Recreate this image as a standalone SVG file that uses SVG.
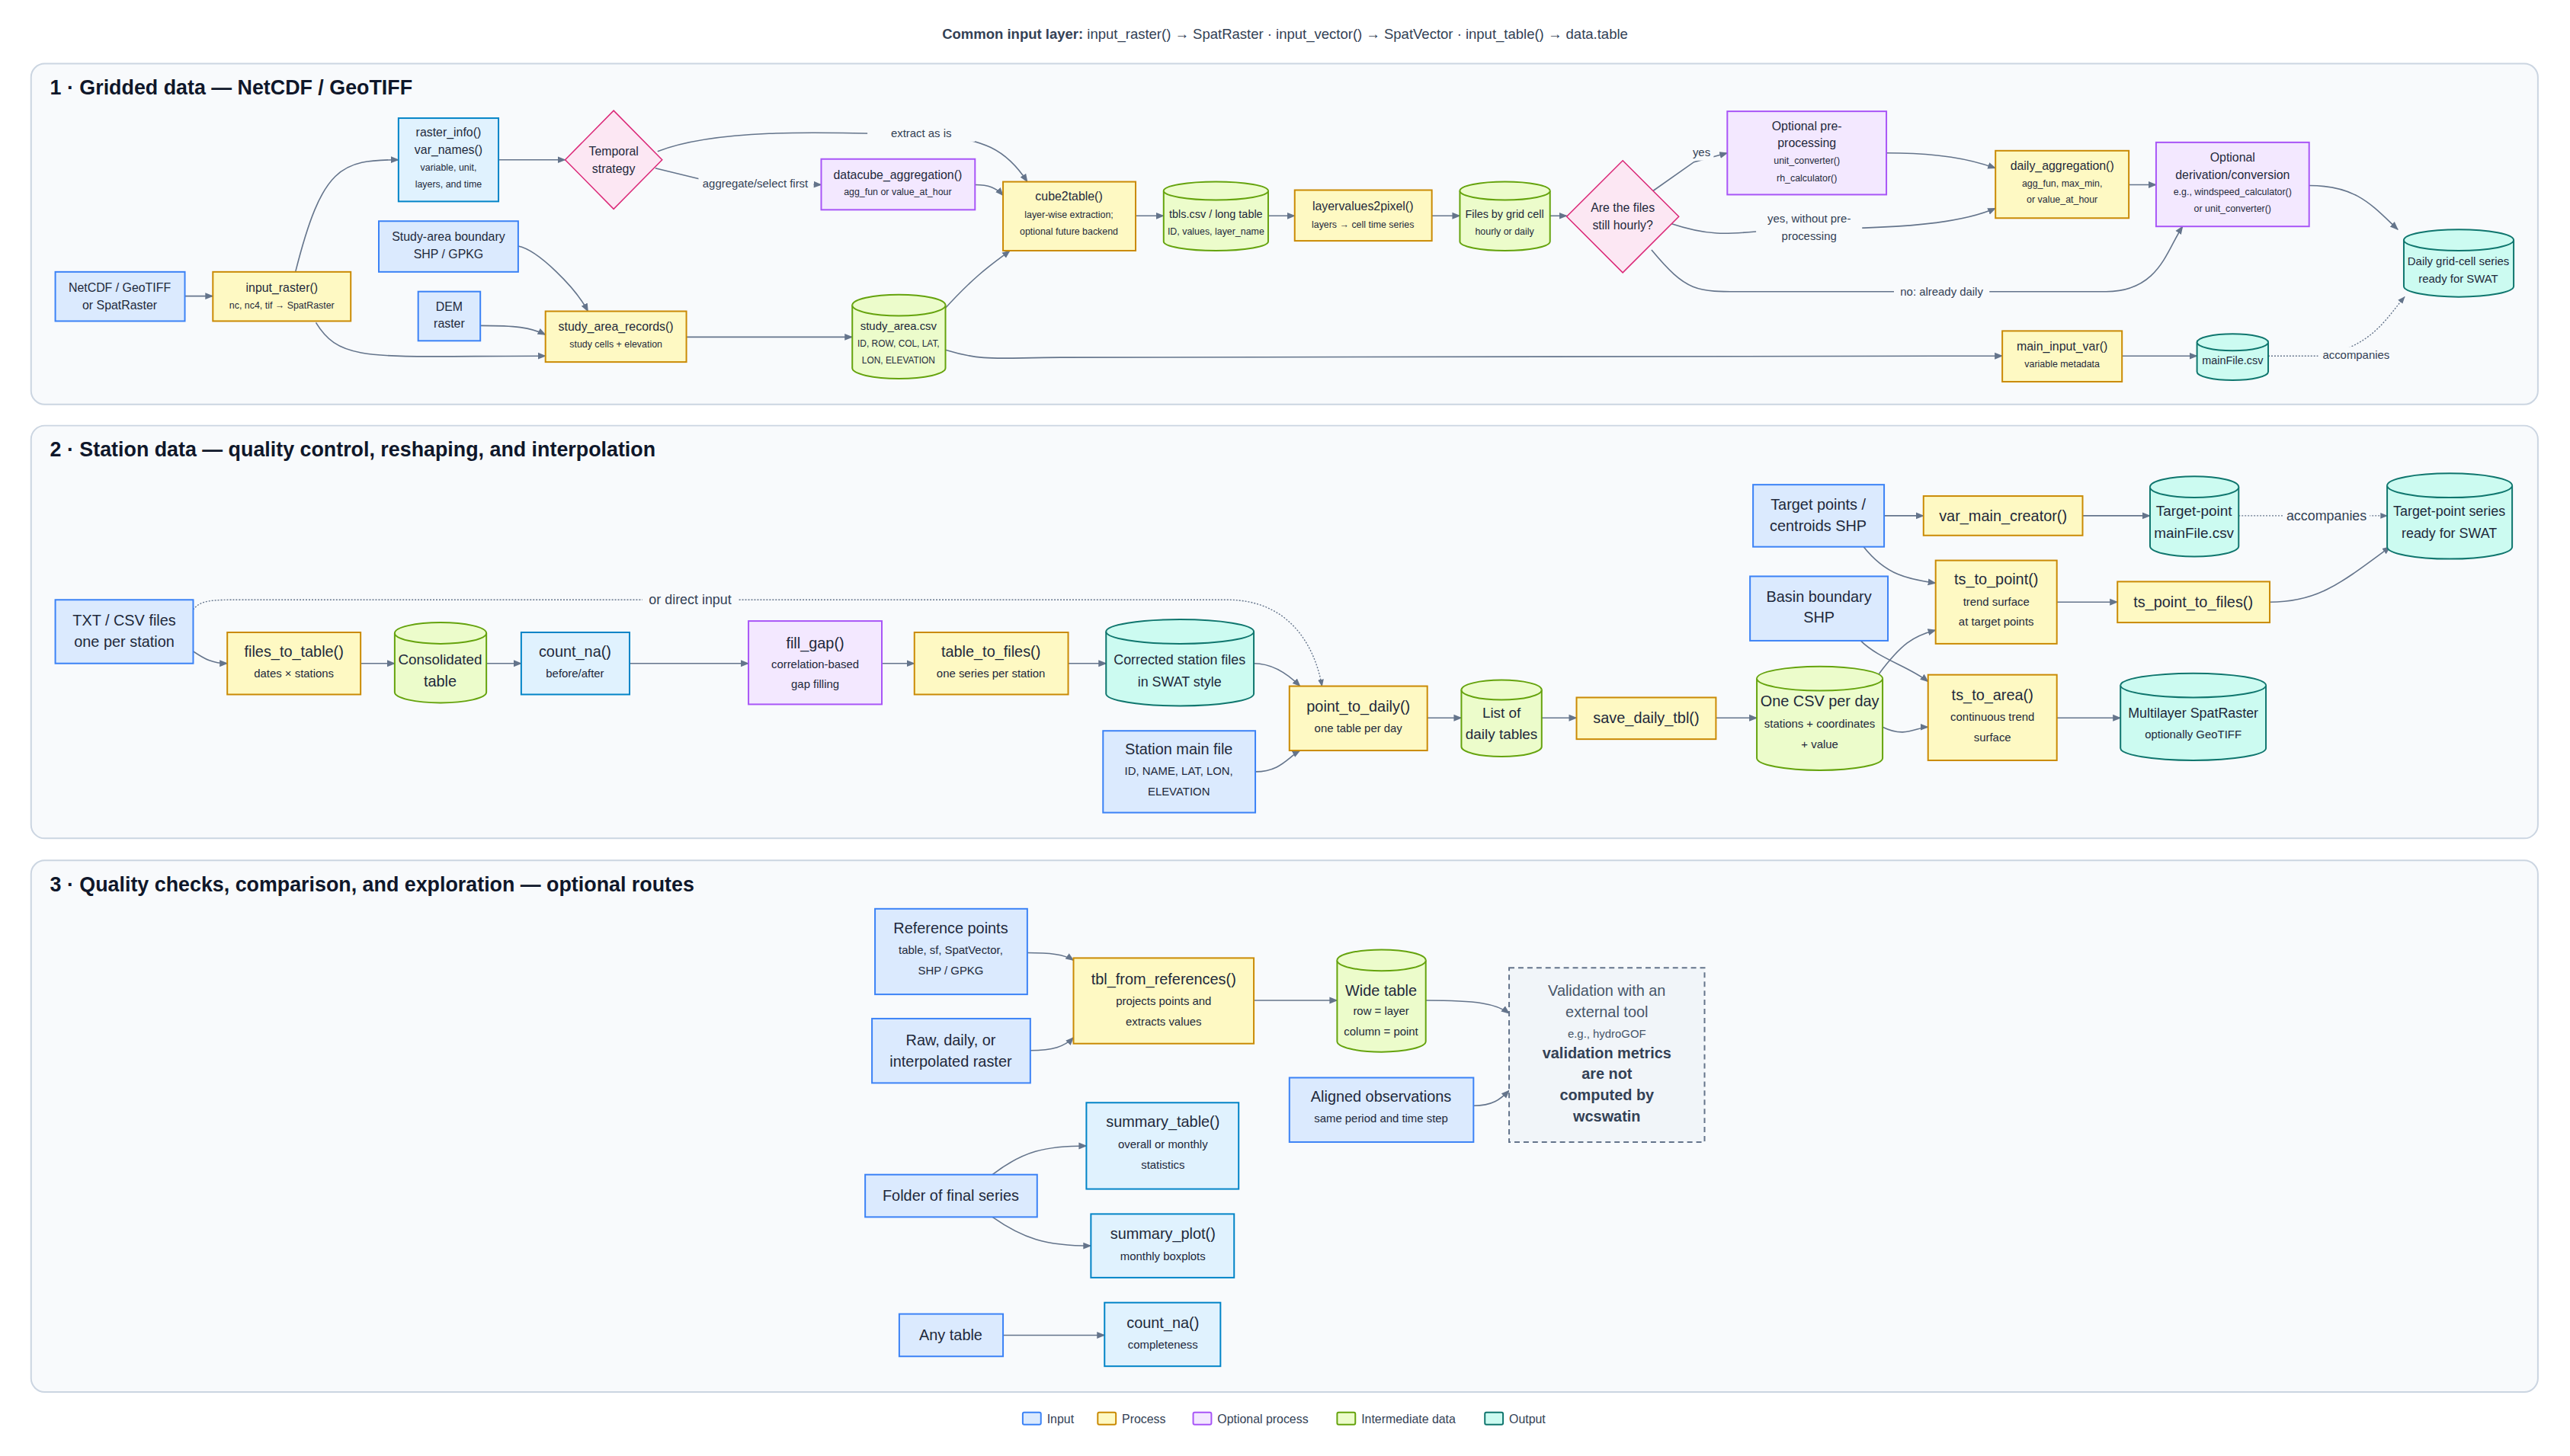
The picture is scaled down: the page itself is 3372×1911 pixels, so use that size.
<svg xmlns="http://www.w3.org/2000/svg" width="3372" height="1911" viewBox="0 0 3372 1911">
<style>
text{font-family:"Liberation Sans",Arial,sans-serif;fill:#1e293b;text-anchor:middle}
.m1{font-size:16px}.s1{font-size:12.5px}.m2{font-size:20px}.s2{font-size:15px}
.ttl{font-size:27px;font-weight:bold;text-anchor:start;fill:#0f172a}
.panel{fill:#f8fafc;stroke:#cbd5e1;stroke-width:2}
.in{fill:#dbeafe;stroke:#3b82f6;stroke-width:2}
.pr{fill:#fef9c3;stroke:#ca8a04;stroke-width:2}
.op{fill:#f3e8ff;stroke:#a855f7;stroke-width:2}
.im{fill:#ecfccb;stroke:#65a30d;stroke-width:2}
.out{fill:#ccfbf1;stroke:#0f766e;stroke-width:2}
.tl{fill:#e0f2fe;stroke:#0284c7;stroke-width:2}
.dec{fill:#fce7f3;stroke:#db2777;stroke-width:1.5}
.e{fill:none;stroke:#64748b;stroke-width:1.6;marker-end:url(#ah)}
.d{fill:none;stroke:#64748b;stroke-width:1.4;stroke-dasharray:2 2;marker-end:url(#ah)}
.lb{fill:#f8fafc}
.el{font-size:15px;fill:#334155}
.b{font-weight:bold}
</style>
<defs>
<marker id="ah" viewBox="0 0 10 10" refX="9" refY="5" markerWidth="7" markerHeight="7" orient="auto"><path d="M0,1 L10,5 L0,9 z" fill="#64748b"/></marker>
</defs>
<rect width="3372" height="1911" fill="#ffffff"/>
<text x="1686" y="51" style="font-size:18.5px;fill:#334155"><tspan font-weight="bold">Common input layer:</tspan> input_raster() → SpatRaster · input_vector() → SpatVector · input_table() → data.table</text>
<g transform="scale(0.994)">
<rect class="panel" x="41" y="84" width="3309" height="450" rx="18"/>
<rect class="panel" x="41" y="562" width="3309" height="545" rx="18"/>
<rect class="panel" x="41" y="1136" width="3309" height="702" rx="18"/>
<text class="ttl" x="66" y="125">1 · Gridded data — NetCDF / GeoTIFF</text>
<text class="ttl" x="66" y="603">2 · Station data — quality control, reshaping, and interpolation</text>
<text class="ttl" x="66" y="1177">3 · Quality checks, comparison, and exploration — optional routes</text>

<g id="connectors">
<path class="e" d="M244,391 L281,391"/>
<path class="e" d="M390,359 C425,220 450,211 526,211"/>
<path class="e" d="M417,426 C450,480 490,470 720,470"/>
<path class="e" d="M658,211 L746,211"/>
<path class="e" d="M868,200 C950,168 1100,175 1216,178 C1300,180 1330,200 1356,240"/>
<path class="e" d="M865,222 L930,238 L1084,244"/>
<path class="e" d="M1287,244 C1305,244 1315,248 1324,258"/>
<path class="e" d="M684,325 C710,330 760,380 776,411"/>
<path class="e" d="M634,430 C680,430 700,432 720,442"/>
<path class="e" d="M906,445 L1125,445"/>
<path class="e" d="M1245,410 C1290,360 1315,345 1333,331"/>
<path class="e" d="M1248,462 C1300,478 1320,472 1400,472 L2643,470"/>
<path class="e" d="M1499,285 L1536,285"/>
<path class="e" d="M1674,285 L1709,285"/>
<path class="e" d="M1890,285 L1927,285"/>
<path class="e" d="M2046,285 L2068,285"/>
<path class="e" d="M2182,252 L2236,214 L2280,202"/>
<path class="e" d="M2490,202 C2560,202 2600,210 2634,222"/>
<path class="e" d="M2205,295 C2280,320 2300,302 2388,302 C2540,302 2600,290 2634,275"/>
<path class="e" d="M2180,330 C2230,390 2240,385 2320,385 L2780,385 C2850,385 2860,330 2881,299"/>
<path class="e" d="M2810,244 L2846,244"/>
<path class="e" d="M3048,245 C3110,245 3130,270 3165,303"/>
<path class="e" d="M2801,470 L2900,470"/>
<path class="d" d="M2994,470 L3060,470 C3130,460 3150,420 3174,392"/>
<path class="e" d="M255,860 C270,870 280,876 300,876"/>
<path class="e" d="M476,876 L521,876"/>
<path class="e" d="M642,876 L688,876"/>
<path class="e" d="M831,876 L988,876"/>
<path class="e" d="M1164,876 L1207,876"/>
<path class="e" d="M1410,876 L1460,876"/>
<path class="e" d="M1655,876 C1680,876 1700,890 1716,906"/>
<path class="d" d="M255,805 C265,792 280,792 320,792 L1620,792 C1700,792 1735,850 1745,906"/>
<path class="e" d="M1657,1019 C1690,1019 1700,1000 1716,991"/>
<path class="e" d="M1884,948 L1929,948"/>
<path class="e" d="M2035,948 L2081,948"/>
<path class="e" d="M2265,948 L2319,948"/>
<path class="e" d="M2480,890 C2510,850 2525,840 2555,832"/>
<path class="e" d="M2485,960 C2515,975 2530,960 2545,960"/>
<path class="e" d="M2460,722 C2490,760 2520,765 2555,770"/>
<path class="e" d="M2487,681 L2539,681"/>
<path class="e" d="M2749,681 L2838,681"/>
<path class="d" d="M2955,681 L3151,681"/>
<path class="e" d="M2715,795 L2795,795"/>
<path class="e" d="M2996,795 C3060,795 3090,770 3155,722"/>
<path class="e" d="M2456,846 C2480,870 2520,880 2545,900"/>
<path class="e" d="M2715,948 L2799,948"/>
<path class="e" d="M1356,1258 C1385,1258 1405,1260 1417,1268"/>
<path class="e" d="M1360,1387 C1390,1387 1405,1382 1417,1370"/>
<path class="e" d="M1655,1321 L1765,1321"/>
<path class="e" d="M1882,1321 C1950,1321 1975,1325 1992,1338"/>
<path class="e" d="M1945,1460 C1970,1460 1980,1452 1992,1440"/>
<path class="e" d="M1310,1551 C1350,1520 1380,1513 1434,1513"/>
<path class="e" d="M1310,1607 C1350,1635 1380,1645 1440,1645"/>
<path class="e" d="M1324,1763 L1458,1763"/>
<rect class="lb" x="1145" y="165" width="142" height="22"/><text class="el" x="1216" y="181">extract as is</text>
<rect class="lb" x="922" y="232" width="152" height="22"/><text class="el" x="997" y="248">aggregate/select first</text>
<rect class="lb" x="2230" y="190" width="32" height="22"/><text class="el" x="2246" y="206">yes</text>
<rect class="lb" x="2318" y="278" width="140" height="46"/><text class="el" x="2388" y="294">yes, without pre-</text><text class="el" x="2388" y="317">processing</text>
<rect class="lb" x="2500" y="374" width="126" height="22"/><text class="el" x="2563" y="390">no: already daily</text>
<rect class="lb" x="3060" y="458" width="98" height="22"/><text class="el" x="3110" y="474">accompanies</text>
<rect class="lb" x="848" y="780" width="126" height="24"/><text class="el" x="911" y="798" style="font-size:18px">or direct input</text>
<rect class="lb" x="3014" y="669" width="114" height="24"/><text class="el" x="3071" y="687" style="font-size:18px">accompanies</text>
</g>

<g id="netcdf"><rect class="in" x="73" y="359" width="171" height="65"/><text class="m1" x="158" y="385">NetCDF / GeoTIFF</text><text class="m1" x="158" y="408">or SpatRaster</text></g>
<g id="input_raster"><rect class="pr" x="281" y="359" width="182" height="65"/><text class="m1" x="372" y="385">input_raster()</text><text class="s1" x="372" y="407">nc, nc4, tif → SpatRaster</text></g>
<g id="raster_info"><rect class="tl" x="526" y="156" width="132" height="110"/><text class="m1" x="592" y="180">raster_info()</text><text class="m1" x="592" y="203">var_names()</text><text class="s1" x="592" y="225">variable, unit,</text><text class="s1" x="592" y="248">layers, and time</text></g>
<g id="temporal"><polygon class="dec" points="810,146 874,211 810,276 746,211"/><text class="m1" x="810" y="205">Temporal</text><text class="m1" x="810" y="228">strategy</text></g>
<g id="datacube"><rect class="op" x="1084" y="210" width="203" height="67"/><text class="m1" x="1185" y="236">datacube_aggregation()</text><text class="s1" x="1185" y="258">agg_fun or value_at_hour</text></g>
<g id="cube2table"><rect class="pr" x="1324" y="240" width="175" height="91"/><text class="m1" x="1411" y="265">cube2table()</text><text class="s1" x="1411" y="288">layer-wise extraction;</text><text class="s1" x="1411" y="310">optional future backend</text></g>
<g id="tbls"><path class="im" d="M1536,252 A69,12 0 0 1 1674,252 V319 A69,12 0 0 1 1536,319 Z"/><path class="im" d="M1536,252 A69,12 0 0 0 1674,252" fill="none"/><text x="1605" y="288" style="font-size:14.5px">tbls.csv / long table</text><text class="s1" x="1605" y="310">ID, values, layer_name</text></g>
<g id="layervalues"><rect class="pr" x="1709" y="251" width="181" height="67"/><text class="m1" x="1799" y="278">layervalues2pixel()</text><text class="s1" x="1799" y="301">layers → cell time series</text></g>
<g id="files_grid"><path class="im" d="M1927,252 A59.5,12 0 0 1 2046,252 V319 A59.5,12 0 0 1 1927,319 Z"/><path class="im" d="M1927,252 A59.5,12 0 0 0 2046,252" fill="none"/><text x="1986" y="288" style="font-size:14.5px">Files by grid cell</text><text class="s1" x="1986" y="310">hourly or daily</text></g>
<g id="hourly"><polygon class="dec" points="2142,212 2216,286 2142,360 2068,286"/><text class="m1" x="2142" y="280">Are the files</text><text class="m1" x="2142" y="303">still hourly?</text></g>
<g id="optpre"><rect class="op" x="2280" y="147" width="210" height="110"/><text class="m1" x="2385" y="172">Optional pre-</text><text class="m1" x="2385" y="194">processing</text><text class="s1" x="2385" y="216">unit_converter()</text><text class="s1" x="2385" y="239">rh_calculator()</text></g>
<g id="daily_agg"><rect class="pr" x="2634" y="199" width="176" height="89"/><text class="m1" x="2722" y="224">daily_aggregation()</text><text class="s1" x="2722" y="246">agg_fun, max_min,</text><text class="s1" x="2722" y="268">or value_at_hour</text></g>
<g id="optderiv"><rect class="op" x="2846" y="188" width="202" height="111"/><text class="m1" x="2947" y="213">Optional</text><text class="m1" x="2947" y="236">derivation/conversion</text><text class="s1" x="2947" y="258">e.g., windspeed_calculator()</text><text class="s1" x="2947" y="280">or unit_converter()</text></g>
<g id="dailygrid"><path class="out" d="M3173,317 A72.5,14 0 0 1 3318,317 V378 A72.5,14 0 0 1 3173,378 Z"/><path class="out" d="M3173,317 A72.5,14 0 0 0 3318,317" fill="none"/><text x="3245" y="350" style="font-size:15px">Daily grid-cell series</text><text x="3245" y="373" style="font-size:15px">ready for SWAT</text></g>
<g id="boundary"><rect class="in" x="500" y="292" width="184" height="67"/><text class="m1" x="592" y="318">Study-area boundary</text><text class="m1" x="592" y="341">SHP / GPKG</text></g>
<g id="dem"><rect class="in" x="552" y="385" width="82" height="65"/><text class="m1" x="593" y="410">DEM</text><text class="m1" x="593" y="433">raster</text></g>
<g id="records"><rect class="pr" x="720" y="411" width="186" height="67"/><text class="m1" x="813" y="437">study_area_records()</text><text class="s1" x="813" y="459">study cells + elevation</text></g>
<g id="studycsv"><path class="im" d="M1125,403 A61.5,14 0 0 1 1248,403 V486 A61.5,14 0 0 1 1125,486 Z"/><path class="im" d="M1125,403 A61.5,14 0 0 0 1248,403" fill="none"/><text x="1186" y="436" style="font-size:15px">study_area.csv</text><text x="1186" y="458" style="font-size:12px">ID, ROW, COL, LAT,</text><text x="1186" y="480" style="font-size:12px">LON, ELEVATION</text></g>
<g id="maininput"><rect class="pr" x="2643" y="437" width="158" height="67"/><text class="m1" x="2722" y="463">main_input_var()</text><text class="s1" x="2722" y="485">variable metadata</text></g>
<g id="mainfile"><path class="out" d="M2900,452 A47,11 0 0 1 2994,452 V491 A47,11 0 0 1 2900,491 Z"/><path class="out" d="M2900,452 A47,11 0 0 0 2994,452" fill="none"/><text x="2947" y="481" style="font-size:14.5px">mainFile.csv</text></g>

<g id="txt"><rect class="in" x="73" y="792" width="182" height="84"/><text class="m2" x="164" y="826">TXT / CSV files</text><text class="m2" x="164" y="854">one per station</text></g>
<g id="files_to_table"><rect class="pr" x="300" y="835" width="176" height="82"/><text class="m2" x="388" y="867">files_to_table()</text><text class="s2" x="388" y="894">dates × stations</text></g>
<g id="consolidated"><path class="im" d="M521,836 A60.5,14 0 0 1 642,836 V914 A60.5,14 0 0 1 521,914 Z"/><path class="im" d="M521,836 A60.5,14 0 0 0 642,836" fill="none"/><text x="581" y="877" style="font-size:19px">Consolidated</text><text class="m2" x="581" y="906">table</text></g>
<g id="count_na1"><rect class="tl" x="688" y="835" width="143" height="82"/><text class="m2" x="759" y="867">count_na()</text><text class="s2" x="759" y="894">before/after</text></g>
<g id="fill_gap"><rect class="op" x="988" y="820" width="176" height="110"/><text class="m2" x="1076" y="856">fill_gap()</text><text class="s2" x="1076" y="882">correlation-based</text><text class="s2" x="1076" y="908">gap filling</text></g>
<g id="table_to_files"><rect class="pr" x="1207" y="835" width="203" height="82"/><text class="m2" x="1308" y="867">table_to_files()</text><text class="s2" x="1308" y="894">one series per station</text></g>
<g id="corrected"><path class="out" d="M1460,834 A97.5,16 0 0 1 1655,834 V916 A97.5,16 0 0 1 1460,916 Z"/><path class="out" d="M1460,834 A97.5,16 0 0 0 1655,834" fill="none"/><text x="1557" y="877" style="font-size:18px">Corrected station files</text><text x="1557" y="906" style="font-size:18px">in SWAT style</text></g>
<g id="stationmain"><rect class="in" x="1456" y="965" width="201" height="108"/><text class="m2" x="1556" y="996">Station main file</text><text class="s2" x="1556" y="1023">ID, NAME, LAT, LON,</text><text class="s2" x="1556" y="1050">ELEVATION</text></g>
<g id="point_to_daily"><rect class="pr" x="1702" y="906" width="182" height="85"/><text class="m2" x="1793" y="940">point_to_daily()</text><text class="s2" x="1793" y="967">one table per day</text></g>
<g id="listdaily"><path class="im" d="M1929,911 A53,13 0 0 1 2035,911 V986 A53,13 0 0 1 1929,986 Z"/><path class="im" d="M1929,911 A53,13 0 0 0 2035,911" fill="none"/><text x="1982" y="948" style="font-size:19px">List of</text><text x="1982" y="976" style="font-size:19px">daily tables</text></g>
<g id="save"><rect class="pr" x="2081" y="921" width="184" height="55"/><text class="m2" x="2173" y="955">save_daily_tbl()</text></g>
<g id="onecsv"><path class="im" d="M2319,896 A83,16 0 0 1 2485,896 V1001 A83,16 0 0 1 2319,1001 Z"/><path class="im" d="M2319,896 A83,16 0 0 0 2485,896" fill="none"/><text class="m2" x="2402" y="933">One CSV per day</text><text class="s2" x="2402" y="961">stations + coordinates</text><text class="s2" x="2402" y="988">+ value</text></g>
<g id="targetpts"><rect class="in" x="2314" y="640" width="173" height="82"/><text class="m2" x="2400" y="673">Target points /</text><text class="m2" x="2400" y="701">centroids SHP</text></g>
<g id="varmain"><rect class="pr" x="2539" y="655" width="210" height="52"/><text class="m2" x="2644" y="688">var_main_creator()</text></g>
<g id="tpmainfile"><path class="out" d="M2838,643 A58.5,14 0 0 1 2955,643 V721 A58.5,14 0 0 1 2838,721 Z"/><path class="out" d="M2838,643 A58.5,14 0 0 0 2955,643" fill="none"/><text x="2896" y="681" style="font-size:19px">Target-point</text><text x="2896" y="710" style="font-size:19px">mainFile.csv</text></g>
<g id="tpseries"><path class="out" d="M3151,641 A82.5,16 0 0 1 3316,641 V722 A82.5,16 0 0 1 3151,722 Z"/><path class="out" d="M3151,641 A82.5,16 0 0 0 3316,641" fill="none"/><text x="3233" y="681" style="font-size:18px">Target-point series</text><text x="3233" y="710" style="font-size:18px">ready for SWAT</text></g>
<g id="basin"><rect class="in" x="2310" y="761" width="182" height="85"/><text class="m2" x="2401" y="795">Basin boundary</text><text class="m2" x="2401" y="822">SHP</text></g>
<g id="ts_to_point"><rect class="pr" x="2555" y="740" width="160" height="110"/><text class="m2" x="2635" y="772">ts_to_point()</text><text class="s2" x="2635" y="800">trend surface</text><text class="s2" x="2635" y="826">at target points</text></g>
<g id="ts_point_to_files"><rect class="pr" x="2795" y="768" width="201" height="54"/><text class="m2" x="2895" y="802">ts_point_to_files()</text></g>
<g id="ts_to_area"><rect class="pr" x="2545" y="891" width="170" height="113"/><text class="m2" x="2630" y="925">ts_to_area()</text><text class="s2" x="2630" y="952">continuous trend</text><text class="s2" x="2630" y="979">surface</text></g>
<g id="multilayer"><path class="out" d="M2799,905 A96,16 0 0 1 2991,905 V988 A96,16 0 0 1 2799,988 Z"/><path class="out" d="M2799,905 A96,16 0 0 0 2991,905" fill="none"/><text x="2895" y="948" style="font-size:18px">Multilayer SpatRaster</text><text class="s2" x="2895" y="975">optionally GeoTIFF</text></g>

<g id="refpoints"><rect class="in" x="1155" y="1200" width="201" height="113"/><text class="m2" x="1255" y="1232">Reference points</text><text class="s2" x="1255" y="1260">table, sf, SpatVector,</text><text class="s2" x="1255" y="1287">SHP / GPKG</text></g>
<g id="rawraster"><rect class="in" x="1151" y="1345" width="209" height="85"/><text class="m2" x="1255" y="1380">Raw, daily, or</text><text class="m2" x="1255" y="1408">interpolated raster</text></g>
<g id="tbl_from"><rect class="pr" x="1417" y="1265" width="238" height="113"/><text class="m2" x="1536" y="1300">tbl_from_references()</text><text class="s2" x="1536" y="1327">projects points and</text><text class="s2" x="1536" y="1354">extracts values</text></g>
<g id="widetable"><path class="im" d="M1765,1268 A58.5,14 0 0 1 1882,1268 V1375 A58.5,14 0 0 1 1765,1375 Z"/><path class="im" d="M1765,1268 A58.5,14 0 0 0 1882,1268" fill="none"/><text class="m2" x="1823" y="1315">Wide table</text><text class="s2" x="1823" y="1340">row = layer</text><text class="s2" x="1823" y="1367">column = point</text></g>
<g id="validation"><rect x="1992" y="1278" width="258" height="230" fill="#f1f5f9" stroke="#64748b" stroke-width="2" stroke-dasharray="7 5"/><text class="m2" x="2121" y="1315" style="fill:#475569">Validation with an</text><text class="m2" x="2121" y="1343" style="fill:#475569">external tool</text><text class="s2" x="2121" y="1370" style="fill:#475569">e.g., hydroGOF</text><text class="m2 b" x="2121" y="1397" style="fill:#334155">validation metrics</text><text class="m2 b" x="2121" y="1425" style="fill:#334155">are not</text><text class="m2 b" x="2121" y="1453" style="fill:#334155">computed by</text><text class="m2 b" x="2121" y="1481" style="fill:#334155">wcswatin</text></g>
<g id="aligned"><rect class="in" x="1702" y="1423" width="243" height="85"/><text class="m2" x="1823" y="1455">Aligned observations</text><text class="s2" x="1823" y="1482">same period and time step</text></g>
<g id="summary_table"><rect class="tl" x="1434" y="1456" width="201" height="114"/><text class="m2" x="1535" y="1488">summary_table()</text><text class="s2" x="1535" y="1516">overall or monthly</text><text class="s2" x="1535" y="1543">statistics</text></g>
<g id="folder"><rect class="in" x="1142" y="1551" width="227" height="56"/><text class="m2" x="1255" y="1586">Folder of final series</text></g>
<g id="summary_plot"><rect class="tl" x="1440" y="1603" width="189" height="84"/><text class="m2" x="1535" y="1636">summary_plot()</text><text class="s2" x="1535" y="1664">monthly boxplots</text></g>
<g id="anytable"><rect class="in" x="1187" y="1735" width="137" height="56"/><text class="m2" x="1255" y="1770">Any table</text></g>
<g id="count_na2"><rect class="tl" x="1458" y="1720" width="153" height="84"/><text class="m2" x="1535" y="1754">count_na()</text><text class="s2" x="1535" y="1781">completeness</text></g>

<g id="legend">
<rect class="in" x="1350" y="1865" width="24" height="16" rx="2"/><text x="1382" y="1879" style="font-size:16px;text-anchor:start;fill:#334155">Input</text>
<rect class="pr" x="1449" y="1865" width="24" height="16" rx="2"/><text x="1481" y="1879" style="font-size:16px;text-anchor:start;fill:#334155">Process</text>
<rect class="op" x="1575" y="1865" width="24" height="16" rx="2"/><text x="1607" y="1879" style="font-size:16px;text-anchor:start;fill:#334155">Optional process</text>
<rect class="im" x="1765" y="1865" width="24" height="16" rx="2"/><text x="1797" y="1879" style="font-size:16px;text-anchor:start;fill:#334155">Intermediate data</text>
<rect class="out" x="1960" y="1865" width="24" height="16" rx="2"/><text x="1992" y="1879" style="font-size:16px;text-anchor:start;fill:#334155">Output</text>
</g>
</g>
</svg>
